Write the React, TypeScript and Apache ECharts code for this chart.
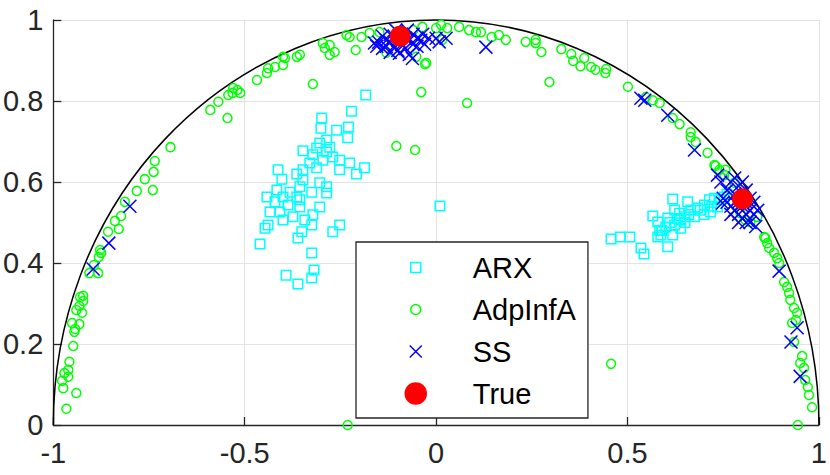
import React, { useEffect, useRef } from "react";
import * as echarts from "echarts";

const xTicks = { min: -1, max: 1, interval: 0.5 };
const yTicks = { min: 0, max: 1, interval: 0.2 };
const referenceRadius = 1;

const seriesNames = ["ARX", "AdpInfA", "SS", "True"];

const trueValues: number[][] = [
  [-0.094, 0.96],
  [0.8, 0.558],
];

const arxValues: number[][] = [
  [-0.184, 0.815], [-0.221, 0.775], [-0.299, 0.758], [-0.229, 0.736], [-0.301, 0.733],
  [-0.26, 0.728], [-0.231, 0.709], [-0.286, 0.704], [-0.304, 0.696], [-0.278, 0.686],
  [-0.312, 0.684], [-0.348, 0.677], [-0.286, 0.674], [-0.322, 0.667], [-0.27, 0.662],
  [-0.296, 0.654], [-0.252, 0.654], [-0.226, 0.647], [-0.187, 0.635], [-0.33, 0.647],
  [-0.312, 0.635], [-0.348, 0.63], [-0.252, 0.63], [-0.208, 0.62], [-0.413, 0.63],
  [-0.364, 0.62], [-0.403, 0.607], [-0.348, 0.605], [-0.304, 0.598], [-0.356, 0.588],
  [-0.286, 0.588], [-0.416, 0.58], [-0.382, 0.575], [-0.325, 0.575], [-0.286, 0.573],
  [-0.442, 0.563], [-0.4, 0.563], [-0.364, 0.563], [-0.421, 0.551], [-0.356, 0.556],
  [-0.387, 0.543], [-0.356, 0.538], [-0.304, 0.538], [-0.434, 0.526], [-0.408, 0.526],
  [-0.322, 0.519], [-0.4, 0.506], [-0.374, 0.514], [-0.343, 0.506], [-0.439, 0.494],
  [-0.447, 0.486], [-0.325, 0.494], [-0.252, 0.494], [-0.27, 0.477], [-0.351, 0.477],
  [-0.361, 0.462], [-0.46, 0.447], [-0.325, 0.425], [-0.319, 0.383], [-0.392, 0.37],
  [-0.325, 0.363], [-0.361, 0.348], [0.01, 0.541],
  [0.457, 0.459], [0.481, 0.464], [0.506, 0.464], [0.535, 0.437], [0.543, 0.422],
  [0.605, 0.44], [0.566, 0.516], [0.579, 0.501], [0.584, 0.481], [0.587, 0.469],
  [0.618, 0.558], [0.623, 0.531], [0.605, 0.511], [0.623, 0.494], [0.639, 0.486],
  [0.618, 0.469], [0.639, 0.506], [0.657, 0.551], [0.665, 0.531], [0.683, 0.536],
  [0.701, 0.543], [0.714, 0.556], [0.727, 0.56], [0.743, 0.556], [0.717, 0.526],
  [0.675, 0.514], [0.649, 0.514], [0.753, 0.563], [0.735, 0.538], [0.636, 0.523],
  [0.6, 0.489], [0.579, 0.464], [0.66, 0.52], [0.69, 0.53], [0.7, 0.52],
  [0.72, 0.54], [0.76, 0.57], [0.65, 0.5], [0.61, 0.5], [0.59, 0.48], [0.63, 0.51],
];

const adpInfAValues: number[][] = [
  [-0.966, 0.04], [-0.94, 0.079], [-0.974, 0.091], [-0.977, 0.109], [-0.961, 0.119],
  [-0.971, 0.128], [-0.961, 0.136], [-0.958, 0.156], [-0.948, 0.195], [-0.945, 0.23],
  [-0.943, 0.237], [-0.951, 0.252], [-0.932, 0.249], [-0.925, 0.277], [-0.94, 0.284],
  [-0.932, 0.294], [-0.922, 0.306], [-0.93, 0.316], [-0.922, 0.319], [-0.906, 0.375],
  [-0.883, 0.375], [-0.894, 0.395], [-0.881, 0.415], [-0.875, 0.425], [-0.878, 0.432],
  [-0.857, 0.477], [-0.829, 0.484], [-0.839, 0.504], [-0.823, 0.516], [-0.813, 0.551],
  [-0.782, 0.578], [-0.74, 0.58], [-0.761, 0.607], [-0.738, 0.625], [-0.735, 0.652],
  [-0.694, 0.686], [-0.59, 0.778], [-0.569, 0.798], [-0.545, 0.758], [-0.543, 0.815],
  [-0.53, 0.832], [-0.532, 0.82], [-0.512, 0.82], [-0.519, 0.827], [-0.468, 0.852],
  [-0.442, 0.869], [-0.439, 0.881], [-0.421, 0.884], [-0.4, 0.889], [-0.395, 0.906],
  [-0.4, 0.909], [-0.364, 0.909], [-0.356, 0.914], [-0.322, 0.842], [-0.296, 0.943],
  [-0.278, 0.938], [-0.291, 0.931], [-0.265, 0.921], [-0.278, 0.914], [-0.234, 0.963],
  [-0.226, 0.958], [-0.195, 0.958], [-0.21, 0.926], [-0.174, 0.968], [-0.148, 0.97],
  [-0.13, 0.919], [-0.104, 0.689], [-0.055, 0.679], [-0.039, 0.822], [-0.029, 0.891],
  [-0.052, 0.909], [-0.026, 0.894], [-0.036, 0.983], [-0.06, 0.975], [-0.231, 0.0],
  [0.0, 0.98], [0.013, 0.988], [0.029, 0.98], [0.016, 0.951], [0.06, 0.983],
  [0.086, 0.975], [0.104, 0.97], [0.117, 0.97], [0.145, 0.958], [0.164, 0.963],
  [0.182, 0.951], [0.234, 0.946], [0.26, 0.943], [0.081, 0.795], [0.26, 0.951],
  [0.275, 0.921], [0.296, 0.847], [0.327, 0.928], [0.353, 0.916], [0.358, 0.899],
  [0.377, 0.886], [0.387, 0.906], [0.405, 0.884], [0.416, 0.877], [0.442, 0.869],
  [0.444, 0.879], [0.501, 0.835], [0.548, 0.81], [0.566, 0.802], [0.584, 0.795],
  [0.618, 0.758], [0.636, 0.743], [0.665, 0.723], [0.665, 0.711], [0.678, 0.699],
  [0.709, 0.672], [0.727, 0.642], [0.73, 0.64], [0.74, 0.63], [0.753, 0.617],
  [0.756, 0.63], [0.779, 0.598], [0.795, 0.523], [0.808, 0.506], [0.821, 0.501],
  [0.839, 0.514], [0.857, 0.464], [0.457, 0.151],
  [0.86, 0.462], [0.865, 0.449], [0.87, 0.437], [0.883, 0.425], [0.891, 0.412],
  [0.896, 0.4], [0.909, 0.353], [0.917, 0.341], [0.922, 0.326], [0.925, 0.309],
  [0.935, 0.289], [0.943, 0.277], [0.93, 0.252], [0.94, 0.259], [0.935, 0.205],
  [0.956, 0.17], [0.951, 0.153], [0.961, 0.141], [0.964, 0.111], [0.971, 0.094],
  [0.974, 0.074], [0.982, 0.044], [0.945, 0.0],
];

const ssValues: number[][] = [
  [-0.896, 0.385], [-0.855, 0.449], [-0.8, 0.54], [0.13, 0.933], [0.535, 0.807],
  [0.545, 0.802], [0.605, 0.765], [0.675, 0.679], [0.735, 0.617], [0.748, 0.548],
  [0.896, 0.38], [0.943, 0.24], [0.927, 0.205], [0.951, 0.12],
  [-0.161, 0.943], [-0.15, 0.945], [-0.14, 0.96], [-0.13, 0.95], [-0.13, 0.935],
  [-0.12, 0.965], [-0.12, 0.945], [-0.11, 0.96], [-0.11, 0.935], [-0.1, 0.95],
  [-0.1, 0.925], [-0.09, 0.965], [-0.09, 0.94], [-0.08, 0.955], [-0.08, 0.93],
  [-0.07, 0.95], [-0.07, 0.915], [-0.06, 0.965], [-0.06, 0.94], [-0.05, 0.955],
  [-0.05, 0.935], [-0.04, 0.95], [-0.035, 0.965], [-0.03, 0.94], [-0.02, 0.955],
  [0.0, 0.955], [0.008, 0.946], [0.026, 0.955], [-0.14, 0.93], [-0.12, 0.92],
  [-0.105, 0.975], [-0.075, 0.975], [-0.155, 0.935], [-0.096, 0.918], [-0.062, 0.905],
  [0.75, 0.56], [0.76, 0.58], [0.77, 0.54], [0.77, 0.6], [0.78, 0.57],
  [0.78, 0.53], [0.79, 0.59], [0.79, 0.55], [0.79, 0.52], [0.8, 0.57],
  [0.8, 0.54], [0.8, 0.51], [0.81, 0.58], [0.81, 0.55], [0.81, 0.52],
  [0.82, 0.56], [0.82, 0.53], [0.82, 0.5], [0.83, 0.55], [0.83, 0.52],
  [0.78, 0.55], [0.76, 0.55], [0.79, 0.5], [0.81, 0.5], [0.84, 0.53],
  [0.77, 0.52], [0.8, 0.6], [0.78, 0.61], [0.744, 0.6], [0.835, 0.49],
];

const AXIS_COLOR = "#262626";
const GRID_COLOR = "#e3e3e3";
const FONT = "'Liberation Sans', Arial, Helvetica, sans-serif";

const legendIcons: Record<string, string> = {
  ARX: "path://M0 0M64 24M7 7H17V17H7Z",
  AdpInfA: "path://M0 0M64 24M7 12A5 5 0 1 1 17 12A5 5 0 1 1 7 12Z",
  SS: "path://M0 0M64 24M6 6L18 18M18 6L6 18",
  True: "path://M0 0M64 24M1.5 12A10.5 10.5 0 1 1 22.5 12A10.5 10.5 0 1 1 1.5 12Z",
};

export default function App() {
  const ref = useRef<HTMLDivElement>(null);

  useEffect(() => {
    document.body.style.margin = "0";
    if (!ref.current) return;
    const chart = echarts.init(ref.current, undefined, { renderer: "svg" });

    const axisCommon = {
      type: "value" as const,
      axisLine: { show: true, onZero: false, lineStyle: { color: AXIS_COLOR, width: 1.3 } },
      axisTick: { show: true, inside: true, length: 8, lineStyle: { color: AXIS_COLOR, width: 1.3 } },
      splitLine: { show: true, lineStyle: { color: GRID_COLOR, width: 1 } },
      axisLabel: { color: AXIS_COLOR, fontSize: 29, fontFamily: FONT },
    };

    chart.setOption({
      animation: false,
      backgroundColor: "#ffffff",
      grid: { left: 52, right: 8, top: 20, bottom: 50, containLabel: false },
      xAxis: {
        ...axisCommon,
        min: xTicks.min,
        max: xTicks.max,
        interval: xTicks.interval,
        axisLabel: { ...axisCommon.axisLabel, margin: 13 },
      },
      yAxis: {
        ...axisCommon,
        min: yTicks.min,
        max: yTicks.max,
        interval: yTicks.interval,
        axisLabel: { ...axisCommon.axisLabel, margin: 10 },
      },
      legend: {
        show: true,
        orient: "vertical",
        left: 356,
        top: 242,
        itemWidth: 64,
        itemHeight: 24,
        itemGap: 13,
        padding: [11, 12, 10, 47],
        borderColor: AXIS_COLOR,
        borderWidth: 1.3,
        backgroundColor: "#ffffff",
        selectedMode: false,
        itemStyle: { borderWidth: 1.5, opacity: 1 },
        textStyle: { fontSize: 29, color: "#000000", fontFamily: FONT },
        data: seriesNames.map((n) => ({ name: n, icon: legendIcons[n] })),
      },
      series: [
        {
          type: "custom",
          name: "unit circle",
          silent: true,
          z: 1,
          data: [[referenceRadius, 0]],
          renderItem: (params: any, api: any) => {
            const r = api.value(0);
            const pl = api.coord([-r, 0]);
            const pr = api.coord([r, 0]);
            const pt = api.coord([0, r]);
            const pc = api.coord([0, 0]);
            const rx = (pr[0] - pl[0]) / 2;
            const ry = pc[1] - pt[1];
            return {
              type: "path",
              shape: {
                pathData: `M${pl[0]} ${pl[1]} A${rx} ${ry} 0 0 1 ${pr[0]} ${pr[1]}`,
              },
              style: { fill: "none", stroke: "#000000", lineWidth: 1.5 },
            };
          },
        },
        {
          type: "scatter",
          name: "ARX",
          data: arxValues,
          symbol: "rect",
          symbolSize: 9.5,
          silent: true,
          itemStyle: { color: "rgba(0,0,0,0)", borderColor: "#00ffff", borderWidth: 1.5, opacity: 1 },
        },
        {
          type: "scatter",
          name: "AdpInfA",
          data: adpInfAValues,
          symbol: "circle",
          symbolSize: 9,
          silent: true,
          itemStyle: { color: "rgba(0,0,0,0)", borderColor: "#00ff00", borderWidth: 1.5, opacity: 1 },
        },
        {
          type: "scatter",
          name: "SS",
          data: ssValues,
          symbol: "path://M0 0L10 10M10 0L0 10",
          symbolSize: 13,
          silent: true,
          itemStyle: { color: "rgba(0,0,0,0)", borderColor: "#0000ff", borderWidth: 1.5, opacity: 1 },
        },
        {
          type: "scatter",
          name: "True",
          data: trueValues,
          symbol: "circle",
          symbolSize: 21,
          silent: true,
          itemStyle: { color: "#ff0000", borderColor: "#ff0000", borderWidth: 0, opacity: 1 },
        },
      ],
    });

    return () => chart.dispose();
  }, []);

  return (
    <div
      ref={ref}
      style={{ position: "absolute", left: 0, top: 0, width: 830, height: 475 }}
    />
  );
}
